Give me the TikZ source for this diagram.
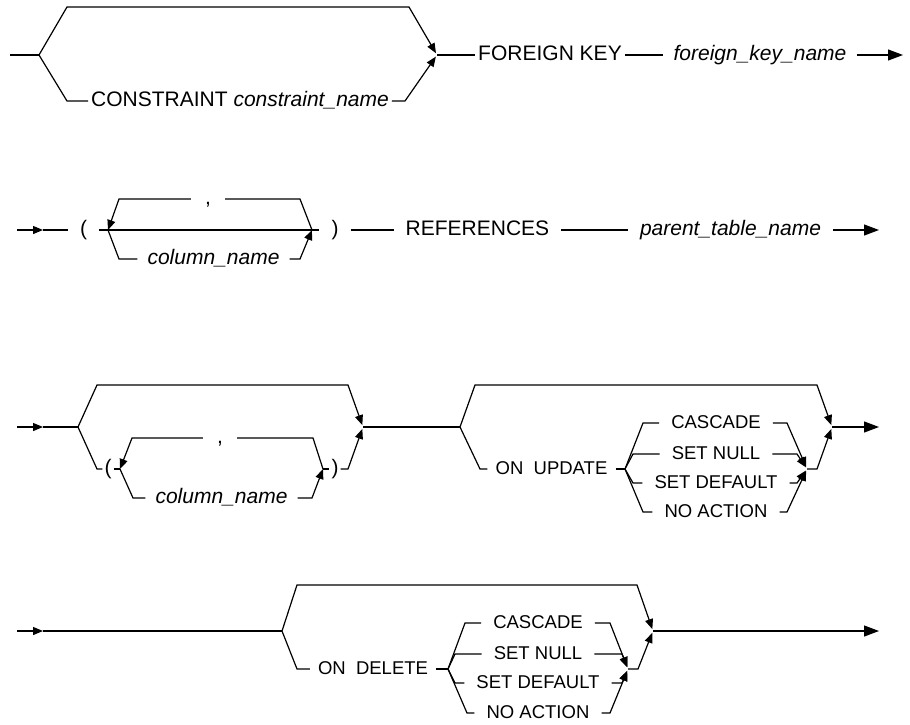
\documentclass[tikz,border=0pt]{standalone}
\usepackage{fontspec}
\setmainfont{Liberation Sans}
\usetikzlibrary{arrows.meta}

\begin{document}
\begin{tikzpicture}[
        x=1pt, y=-1pt,
        rail/.style={draw=black, line width=1.2pt},
        arr/.style={rail, -{Triangle[length=10pt, width=8pt]}},
        merge/.style={arr, shorten >=2pt},
        endarr/.style={rail, -{Triangle[length=15pt, width=11pt]}},
        kw/.style={font=\fontsize{21}{25}\selectfont, text height=15pt, text depth=3.6pt, inner ysep=0pt, inner xsep=3pt},
        var/.style={kw, font=\fontsize{21}{25}\selectfont\itshape, inner xsep=10pt},
        wide/.style={inner xsep=12pt},
        tight/.style={kw, inner xsep=2pt},
        sep/.style={kw, inner xsep=14pt},
        opt/.style={font=\fontsize{18.5}{22}\selectfont, text height=13.3pt, text depth=3.2pt, inner ysep=0pt, inner xsep=12pt},
        clause/.style={opt, inner xsep=8pt}
    ]
        \useasboundingbox (0,0) rectangle (910,725);

        % row 1: constraint name and foreign key
        \coordinate (s1) at (10,55);
        \coordinate (f1) at (39,55);
        \coordinate (c1a) at (67,7);
        \coordinate (c1b) at (409,7);
        \coordinate (c1c) at (67,101);
        \coordinate (c1d) at (405,101);
        \coordinate (j1) at (437,55);
        \coordinate (e1) at (903,55);
        \node[kw] (con) at (240,101) {CONSTRAINT \textit{constraint\_name}};
        \node[kw] (fk) at (550,55) {FOREIGN KEY};
        \node[var] (fkn) at (760,55) {foreign\_key\_name};
        \draw[rail] (s1) -- (f1);
        \draw[merge] (f1) -- (c1a) -- (c1b) -- (j1);
        \draw[rail] (f1) -- (c1c) -- (con.west);
        \draw[merge] (con.east) -- (c1d) -- (j1);
        \draw[rail] (j1) -- (fk.west);
        \draw[rail] (fk.east) -- (fkn.west);
        \draw[endarr] (fkn.east) -- (e1);

        % row 2: column list and parent table
        \coordinate (s2) at (17,230);
        \coordinate (a2) at (43,230);
        \coordinate (l2) at (108,230);
        \coordinate (r2) at (312,230);
        \coordinate (t2a) at (119,199);
        \coordinate (t2b) at (300,199);
        \coordinate (b2a) at (119,259);
        \coordinate (b2b) at (300,259);
        \coordinate (e2) at (879,230);
        \node[kw, wide] (lp2) at (83.5,230) {(};
        \node[sep] (cm2) at (208,199) {,};
        \node[var] (col2) at (213.5,259) {column\_name};
        \node[kw, wide] (rp2) at (335,230) {)};
        \node[kw, wide] (ref) at (477.5,230) {REFERENCES};
        \node[var, wide] (ptn) at (730.5,230) {parent\_table\_name};
        \draw[arr] (s2) -- (a2);
        \draw[rail] (a2) -- (lp2.west);
        \draw[rail] (lp2.east) -- (rp2.west);
        \draw[rail] (r2) -- (t2b) -- (cm2.east);
        \draw[arr] (cm2.west) -- (t2a) -- (l2);
        \draw[rail] (l2) -- (b2a) -- (col2.west);
        \draw[arr] (col2.east) -- (b2b) -- (r2);
        \draw[rail] (rp2.east) -- (ref.west);
        \draw[rail] (ref.east) -- (ptn.west);
        \draw[endarr] (ptn.east) -- (e2);

        % row 3: optional column list and on update
        \coordinate (s3) at (17,427);
        \coordinate (a3) at (43,427);
        \coordinate (f3) at (78,427);
        \coordinate (c3a) at (97,385);
        \coordinate (c3b) at (348,385);
        \coordinate (c3c) at (97,469);
        \coordinate (c3d) at (348,469);
        \coordinate (j3) at (363,427);
        \coordinate (l3) at (120,469);
        \coordinate (r3) at (323,469);
        \coordinate (t3a) at (132,438);
        \coordinate (t3b) at (313,438);
        \coordinate (b3a) at (133,498);
        \coordinate (b3b) at (312,498);
        \node[tight] (lp3) at (108,469) {(};
        \node[sep] (cm3) at (220,438) {,};
        \node[var] (col3) at (221.5,498) {column\_name};
        \node[tight] (rp3) at (335,469) {)};
        \draw[arr] (s3) -- (a3);
        \draw[rail] (a3) -- (f3);
        \draw[merge] (f3) -- (c3a) -- (c3b) -- (j3);
        \draw[rail] (f3) -- (c3c) -- (lp3.west);
        \draw[rail] (lp3.east) -- (l3);
        \draw[rail] (r3) -- (t3b) -- (cm3.east);
        \draw[arr] (cm3.west) -- (t3a) -- (l3);
        \draw[rail] (l3) -- (b3a) -- (col3.west);
        \draw[arr] (col3.east) -- (b3b) -- (r3);
        \draw[rail] (r3) -- (rp3.west);
        \draw[merge] (rp3.east) -- (c3d) -- (j3);

        \coordinate (f3b) at (460,427);
        \coordinate (c3e) at (475,385);
        \coordinate (c3f) at (817,385);
        \coordinate (c3g) at (480,469);
        \coordinate (c3h) at (817,469);
        \coordinate (j3b) at (832,427);
        \coordinate (f3c) at (625,469);
        \coordinate (j3c) at (807,469);
        \coordinate (e3) at (879,427);
        \node[clause] (onu) at (551.5,469) {ON~~UPDATE};
        \node[opt] (ucas) at (716,423) {CASCADE};
        \node[opt] (unul) at (716,454) {SET NULL};
        \node[opt] (udef) at (716,483) {SET DEFAULT};
        \node[opt] (unoa) at (716,512) {NO ACTION};
        \draw[rail] (j3) -- (f3b);
        \draw[merge] (f3b) -- (c3e) -- (c3f) -- (j3b);
        \draw[rail] (f3b) -- (c3g) -- (onu.west);
        \draw[rail] (onu.east) -- (f3c);
        \draw[rail] (f3c) -- (643,423) -- (ucas.west);
        \draw[rail] (f3c) -- (633,454) -- (unul.west);
        \draw[rail] (f3c) -- (633,483) -- (udef.west);
        \draw[rail] (f3c) -- (643,512) -- (unoa.west);
        \draw[merge] (ucas.east) -- (787,423) -- (j3c);
        \draw[merge] (unul.east) -- (797,454) -- (j3c);
        \draw[merge] (udef.east) -- (797,483) -- (j3c);
        \draw[merge] (unoa.east) -- (787,512) -- (j3c);
        \draw[merge] (j3c) -- (c3h) -- (j3b);
        \draw[endarr] (j3b) -- (e3);

        % row 4: on delete
        \coordinate (s4) at (17,631);
        \coordinate (a4) at (43,631);
        \coordinate (f4) at (282,631);
        \coordinate (c4a) at (297,585);
        \coordinate (c4b) at (637,585);
        \coordinate (c4c) at (297,669);
        \coordinate (c4h) at (638,669);
        \coordinate (j4) at (653,631);
        \coordinate (f4c) at (448,669);
        \coordinate (j4c) at (628,669);
        \coordinate (e4) at (879,631);
        \node[clause] (ond) at (373,669) {ON~~DELETE};
        \node[opt] (dcas) at (538,623) {CASCADE};
        \node[opt] (dnul) at (538,654) {SET NULL};
        \node[opt] (ddef) at (538,683) {SET DEFAULT};
        \node[opt] (dnoa) at (538,713) {NO ACTION};
        \draw[arr] (s4) -- (a4);
        \draw[rail] (a4) -- (f4);
        \draw[merge] (f4) -- (c4a) -- (c4b) -- (j4);
        \draw[rail] (f4) -- (c4c) -- (ond.west);
        \draw[rail] (ond.east) -- (f4c);
        \draw[rail] (f4c) -- (465,623) -- (dcas.west);
        \draw[rail] (f4c) -- (455,654) -- (dnul.west);
        \draw[rail] (f4c) -- (455,683) -- (ddef.west);
        \draw[rail] (f4c) -- (467,713) -- (dnoa.west);
        \draw[merge] (dcas.east) -- (610,623) -- (j4c);
        \draw[merge] (dnul.east) -- (622,654) -- (j4c);
        \draw[merge] (ddef.east) -- (622,683) -- (j4c);
        \draw[merge] (dnoa.east) -- (610,713) -- (j4c);
        \draw[merge] (j4c) -- (c4h) -- (j4);
        \draw[endarr] (j4) -- (e4);
\end{tikzpicture}
\end{document}
